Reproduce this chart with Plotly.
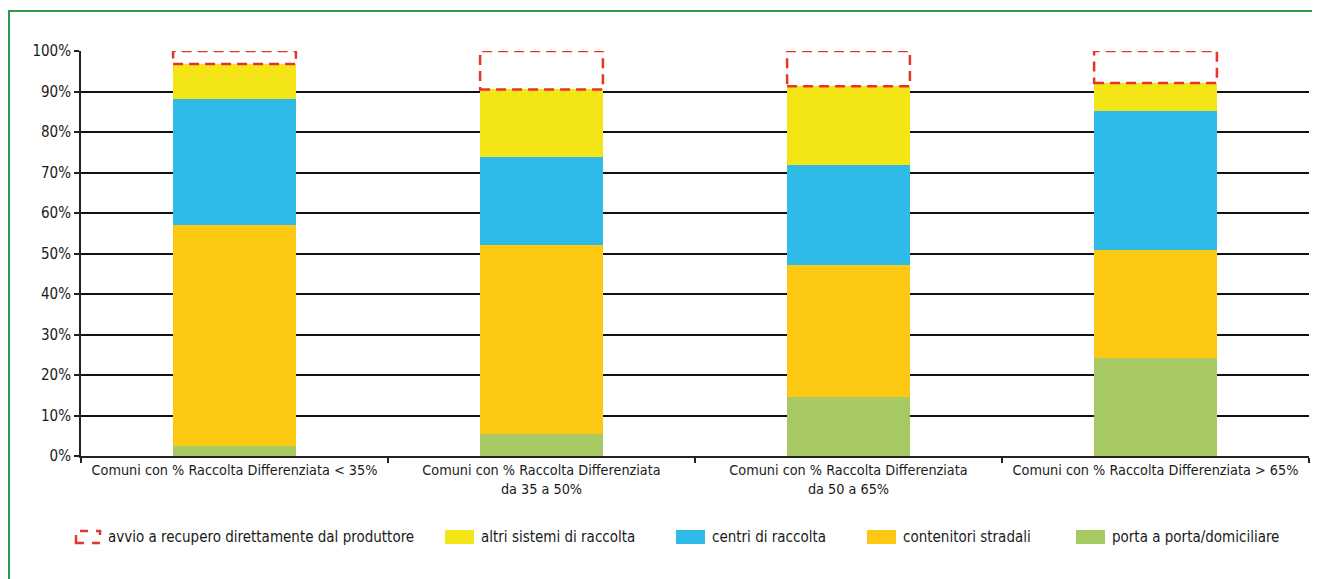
import plotly.graph_objects as go

categories = [
    "Comuni con % Raccolta Differenziata < 35%",
    "Comuni con % Raccolta Differenziata<br>da 35 a 50%",
    "Comuni con % Raccolta Differenziata<br>da 50 a 65%",
    "Comuni con % Raccolta Differenziata > 65%",
]
porta_a_porta = [2.5, 5.5, 14.6, 24.2]
contenitori_stradali = [54.6, 46.7, 32.6, 26.6]
centri_di_raccolta = [31.1, 21.6, 24.7, 34.3]
altri_sistemi = [8.6, 16.7, 19.4, 7.0]
avvio_recupero = [3.2, 9.5, 8.7, 7.9]

y_ticks = [0, 10, 20, 30, 40, 50, 60, 70, 80, 90, 100]
y_ticktext = [f"{v}%" for v in y_ticks]

series_names = [
    "porta a porta/domiciliare",
    "contenitori stradali",
    "centri di raccolta",
    "altri sistemi di raccolta",
]
series_values = [porta_a_porta, contenitori_stradali, centri_di_raccolta, altri_sistemi]
series_colors = ["#A6C964", "#FCC812", "#2EBBE8", "#F3E516"]
dash_name = "avvio a recupero direttamente dal produttore"
dash_color = "#E8342A"

FONT = "DejaVu Sans Condensed, Liberation Sans Narrow, Arial Narrow, sans-serif"
FS = 15
BAR_W = 0.4

# page offset (browser body margin)
OFF = 8
W, H = 1320 - OFF, 579 - OFF
plot_l, plot_r = 81 - OFF, 1309 - OFF
plot_t, plot_b = 51 - OFF, 456 - OFF
plot_w, plot_h = plot_r - plot_l, plot_b - plot_t

fig = go.Figure()
for name, vals, col in zip(series_names, series_values, series_colors):
    fig.add_trace(go.Bar(
        x=categories, y=vals, name=name, width=BAR_W,
        marker=dict(color=col, line=dict(width=0)),
        showlegend=False,
    ))
# transparent bar for the dashed segment (data carrier)
fig.add_trace(go.Bar(
    x=categories, y=avvio_recupero, name=dash_name, width=BAR_W,
    marker=dict(color="rgba(0,0,0,0)", line=dict(width=0)),
    showlegend=False,
))

shapes = []
# dashed outlines derived from data
for i in range(len(categories)):
    base = sum(s[i] for s in series_values)
    shapes.append(dict(
        type="rect", xref="x", yref="y",
        x0=i - BAR_W / 2, x1=i + BAR_W / 2,
        y0=base, y1=base + avvio_recupero[i],
        line=dict(color=dash_color, width=2.5, dash="10px,6px"),
        fillcolor="rgba(0,0,0,0)", layer="above",
    ))


def px_x(p):
    return (p - OFF - plot_l) / plot_w


def px_y(p):
    return (plot_b - (p - OFF)) / plot_h


# outer green frame
shapes.append(dict(
    type="rect", xref="paper", yref="paper",
    x0=px_x(9), x1=px_x(1340), y0=px_y(600), y1=px_y(11),
    line=dict(color="#2a9a48", width=2), fillcolor="rgba(0,0,0,0)", layer="below",
))

legend_items = [(dash_name, dash_color, True)] + [
    (n, c, False) for n, c in zip(
        ["altri sistemi di raccolta", "centri di raccolta", "contenitori stradali", "porta a porta/domiciliare"],
        ["#F3E516", "#2EBBE8", "#FCC812", "#A6C964"],
    )
]
legend_swatch_x = [75, 445, 676, 867, 1076]
legend_cy = 537
annotations = []
for (name, col, dashed), sx in zip(legend_items, legend_swatch_x):
    if dashed:
        shapes.append(dict(
            type="rect", xref="paper", yref="paper",
            x0=px_x(sx + 1), x1=px_x(sx + 25), y0=px_y(legend_cy + 6), y1=px_y(legend_cy - 6),
            line=dict(color=col, width=2.5, dash="8px,8px"), fillcolor="rgba(0,0,0,0)",
        ))
        tx = sx + 31
    else:
        shapes.append(dict(
            type="rect", xref="paper", yref="paper",
            x0=px_x(sx), x1=px_x(sx + 29), y0=px_y(legend_cy + 7), y1=px_y(legend_cy - 7),
            line=dict(width=0), fillcolor=col,
        ))
        tx = sx + 34
    annotations.append(dict(
        text=name, xref="paper", yref="paper", x=px_x(tx), y=px_y(legend_cy),
        xanchor="left", yanchor="middle", showarrow=False,
        font=dict(family=FONT, size=FS, color="#1a1a1a"),
    ))

fig.update_layout(
    barmode="stack",
    width=W, height=H,
    margin=dict(l=plot_l, r=W - plot_r, t=plot_t, b=H - plot_b, autoexpand=False),
    paper_bgcolor="white", plot_bgcolor="white",
    font=dict(family=FONT, size=FS, color="#1a1a1a"),
    showlegend=False,
    bargap=0.6,
    shapes=shapes,
    annotations=annotations,
    xaxis=dict(
        type="category", tickson="boundaries", ticks="outside", ticklen=5,
        tickcolor="#222", tickwidth=1.5, tickangle=0, automargin=False,
        showline=True, linecolor="#222", linewidth=2,
        showgrid=False, range=[-0.5, 3.5],
        tickfont=dict(family=FONT, size=14.3, color="#1a1a1a"),
    ),
    yaxis=dict(
        range=[0, 100], tickvals=y_ticks, ticktext=y_ticktext, automargin=False,
        ticks="outside", ticklen=5, tickcolor="#222", tickwidth=1.5,
        showline=True, linecolor="#222", linewidth=2,
        showgrid=True, gridcolor="#111", gridwidth=1.5,
        zeroline=False,
        tickfont=dict(family=FONT, size=FS, color="#1a1a1a"),
    ),
)

fig.write_html("out.html")
